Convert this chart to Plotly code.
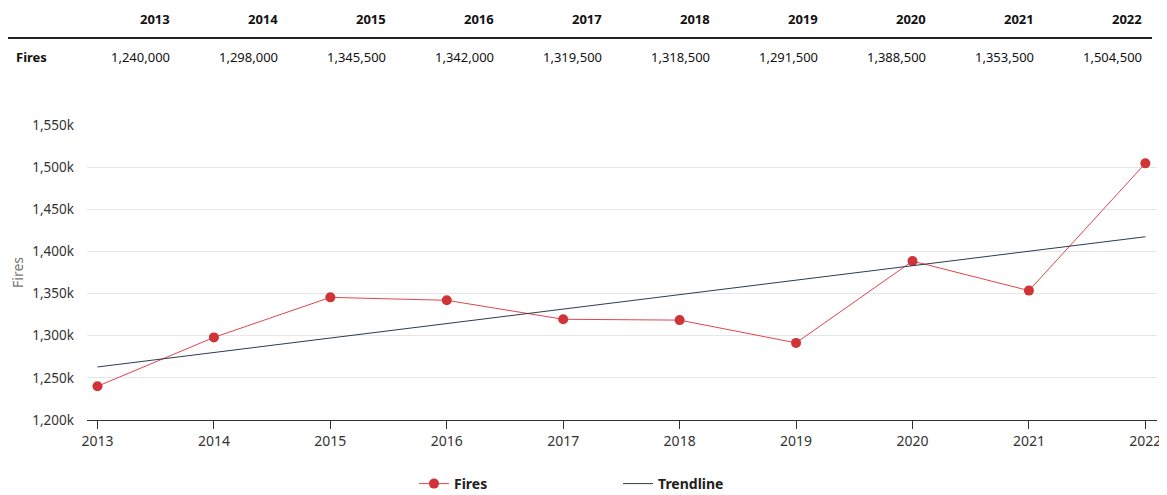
import numpy as np
import plotly.graph_objects as go

# data
years = [2013, 2014, 2015, 2016, 2017, 2018, 2019, 2020, 2021, 2022]
fires = [1240000, 1298000, 1345500, 1342000, 1319500, 1318500, 1291500, 1388500, 1353500, 1504500]
trend_years = [2013, 2022]
trend_vals = [1262900, 1417400]
y_ticks = [1200000, 1250000, 1300000, 1350000, 1400000, 1450000, 1500000, 1550000]
y_tick_labels = ['1,200k', '1,250k', '1,300k', '1,350k', '1,400k', '1,450k', '1,500k', '1,550k']

FONT = 'Segoe UI, Noto Sans, sans-serif'
OFF = 8  # page body margin
W, H = 1167 - OFF, 495 - OFF
ML, MR, MT, MB = 87 - OFF, 10, 125 - OFF, 75
pw = W - ML - MR
ph = H - MT - MB


# helpers: positions measured on the screenshot -> paper coords
def px_x(px):
    return (px - OFF - ML) / pw


def px_y(py):
    return (H - MB - (py - OFF)) / ph


fig = go.Figure()
fig.add_trace(go.Scatter(x=years, y=fires, mode='lines+markers', name='<b>Fires</b>',
                         line=dict(color='#e0464c', width=1),
                         marker=dict(color='#d13438', size=10)))
fig.add_trace(go.Scatter(x=trend_years, y=trend_vals, mode='lines', name='<b>Trendline</b>',
                         line=dict(color='#2e3b4e', width=1)))

# table above the chart
ann = []
for i, yr in enumerate(years):
    right = 172 + i * 108
    ann.append(dict(x=px_x(right), y=px_y(19), xref='paper', yref='paper',
                    text='<b>%d</b>' % yr, showarrow=False, xanchor='right', yanchor='middle',
                    font=dict(size=13, color='#111', family=FONT)))
    ann.append(dict(x=px_x(right), y=px_y(57), xref='paper', yref='paper',
                    text='{:,}'.format(fires[i]), showarrow=False, xanchor='right',
                    yanchor='middle', font=dict(size=13, color='#111', family=FONT)))
ann.append(dict(x=px_x(14), y=px_y(57), xref='paper', yref='paper',
                text='<b>Fires</b>', showarrow=False, xanchor='left', yanchor='middle',
                font=dict(size=13, color='#111', family=FONT)))

fig.update_layout(
    width=W, height=H,
    margin=dict(l=ML, r=MR, t=MT, b=MB, autoexpand=False),
    paper_bgcolor='white', plot_bgcolor='white',
    font=dict(family=FONT, size=13, color='#333'),
    annotations=ann,
    shapes=[dict(type='line', xref='paper', yref='paper',
                 x0=px_x(5), x1=px_x(1152), y0=px_y(38), y1=px_y(38),
                 line=dict(color='#222', width=2))],
    showlegend=True,
    legend=dict(orientation='h', xref='container', yref='container',
                x=(414 - OFF) / W, xanchor='left', y=(H - (484 - OFF)) / H, yanchor='middle',
                entrywidth=159, entrywidthmode='pixels',
                font=dict(size=14, color='#222', family=FONT), itemclick=False),
    xaxis=dict(range=[2012.91, 2022.1], tickvals=years, showgrid=False,
               showline=True, linecolor='#333', linewidth=1,
               ticks='outside', ticklen=8, tickcolor='#333',
               tickfont=dict(size=14, color='#333'), zeroline=False),
    yaxis=dict(range=[1200000, 1550000], tickvals=y_ticks, ticktext=y_tick_labels,
               showgrid=True, gridcolor='#e6e6e6', zeroline=False,
               tickfont=dict(size=13.5, color='#333'), ticklabelstandoff=12,
               title=dict(text='Fires', font=dict(size=14, color='#777'), standoff=15)),
)

fig.write_html("out.html")
